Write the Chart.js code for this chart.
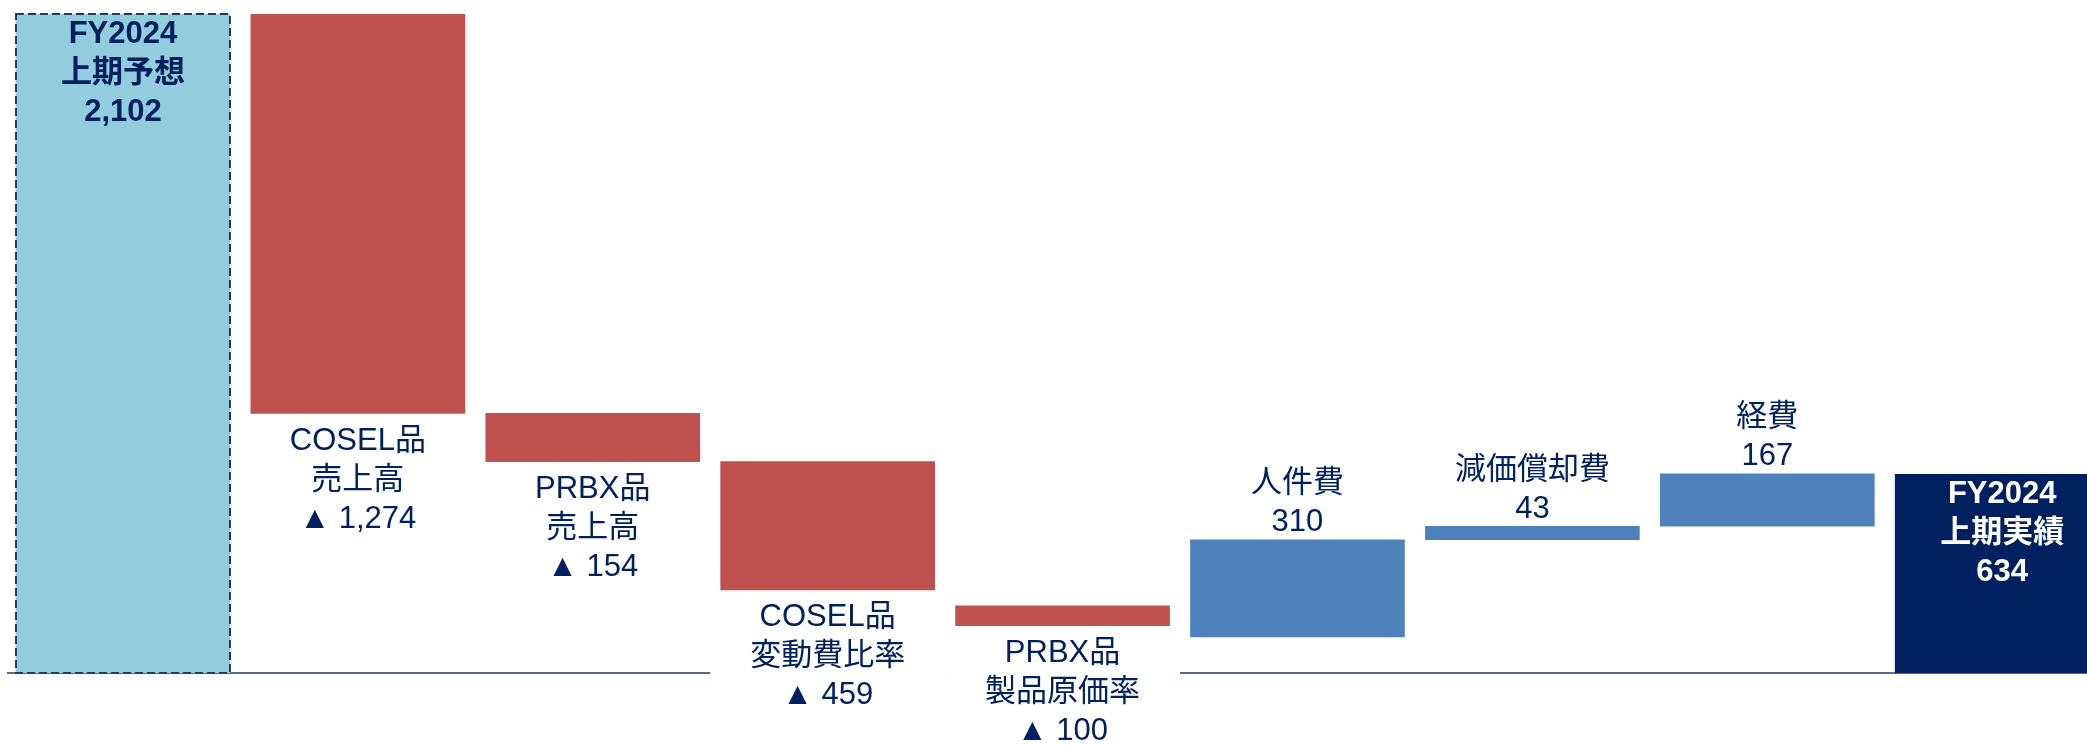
<!DOCTYPE html>
<html>
<head>
<meta charset="utf-8">
<script src="https://cdn.jsdelivr.net/npm/chart.js@4/dist/chart.umd.min.js"></script>
<style>
  html, body { margin: 0; padding: 0; background: #fff; overflow: hidden; }
  #wrap { width: 2087px; height: 745px; position: relative; }
</style>
</head>
<body>
<div id="wrap"><canvas id="graph_waterfall"></canvas></div>
<script>
// Waterfall - FY2024 上期 (予想 -> 実績)
var categories = [
  ['FY2024', '上期予想'],
  ['COSEL品', '売上高'],
  ['PRBX品', '売上高'],
  ['COSEL品', '変動費比率'],
  ['PRBX品', '製品原価率'],
  ['人件費'],
  ['減価償却費'],
  ['経費'],
  ['FY2024', '上期実績']
];
// amounts printed on the chart (negative = ▲)
var amounts = [2102, -1274, -154, -459, -100, 310, 43, 167, 634];
// bar extents as drawn in the picture
var barLow  = [0, 828, 674, 265, 151, 115, 425, 468, 0];
var barHigh = [2102, 2102, 828, 674, 214, 425, 468, 635, 634];
var kinds = ['total', 'down', 'down', 'down', 'down', 'up', 'up', 'up', 'total'];

var colors = {
  total0: '#93CDDD',
  down: '#C0504D',
  up: '#4F81BD',
  total1: '#002060',
  text: '#002060',
  line: '#1F3864'
};

var barColors = kinds.map(function (k, i) {
  if (k === 'total') return i === 0 ? colors.total0 : colors.total1;
  return k === 'down' ? colors.down : colors.up;
});

var points = barLow.map(function (lo, i) {
  return { x: i, y: [lo, barHigh[i]] };
});

function fmt(v) {
  var s = Math.abs(v).toLocaleString('en-US');
  return v < 0 ? '▲ ' + s : s;
}

var FONT = '"Liberation Sans", Arial, "Noto Sans CJK JP", sans-serif';
var LINE_H = 39;

var waterfallPlugin = {
  id: 'waterfallDeco',
  beforeDatasetsDraw: function (chart) {
    var ctx = chart.ctx;
    var y0 = chart.scales.y.getPixelForValue(0);
    ctx.save();
    ctx.strokeStyle = colors.line;
    ctx.lineWidth = 1.5;
    ctx.beginPath();
    ctx.moveTo(7, y0);
    ctx.lineTo(chart.chartArea.right, y0);
    ctx.stroke();
    ctx.restore();
  },
  afterDatasetsDraw: function (chart) {
    var ctx = chart.ctx;
    var meta = chart.getDatasetMeta(0);
    var pitch = chart.scales.x.getPixelForValue(1) - chart.scales.x.getPixelForValue(0);
    ctx.save();
    ctx.textAlign = 'center';
    ctx.textBaseline = 'middle';

    meta.data.forEach(function (bar, i) {
      var top = Math.min(bar.y, bar.base);
      var bottom = Math.max(bar.y, bar.base);
      var lines = categories[i].concat([fmt(amounts[i])]);
      var kind = kinds[i];

      if (i === 0) {
        // dashed outline on the forecast bar
        ctx.save();
        ctx.setLineDash([8, 4]);
        ctx.lineWidth = 2;
        ctx.strokeStyle = colors.line;
        ctx.strokeRect(bar.x - bar.width / 2, top, bar.width, bottom - top);
        ctx.restore();
      }

      var first;
      if (kind === 'total') {
        first = top + 20;
        ctx.font = 'bold 31px ' + FONT;
        ctx.fillStyle = i === 0 ? colors.text : '#ffffff';
      } else if (kind === 'down') {
        first = bottom + 28;
        ctx.fillStyle = '#ffffff';
        ctx.fillRect(bar.x - pitch / 2, first - 20, pitch, (lines.length - 1) * LINE_H + 40);
        ctx.font = '31px ' + FONT;
        ctx.fillStyle = colors.text;
      } else {
        first = top - 17 - (lines.length - 1) * LINE_H;
        ctx.font = '31px ' + FONT;
        ctx.fillStyle = colors.text;
      }
      lines.forEach(function (t, j) {
        ctx.fillText(t, bar.x, first + j * LINE_H);
      });
    });
    ctx.restore();
  }
};

var ctxW = document.getElementById('graph_waterfall').getContext('2d');
var chartW = new Chart(ctxW, {
  type: 'bar',
  data: {
    datasets: [{
      data: points,
      backgroundColor: barColors,
      borderWidth: 0,
      barThickness: 214
    }]
  },
  options: {
    responsive: true,
    maintainAspectRatio: false,
    animation: false,
    layout: { padding: { top: 14, bottom: 72, left: 5.5, right: 0 } },
    plugins: { legend: { display: false }, tooltip: { enabled: false } },
    scales: {
      x: { type: 'linear', display: false, offset: false, min: -0.5, max: 8.361 },
      y: { display: false, min: 0, max: 2102 }
    }
  },
  plugins: [waterfallPlugin]
});
</script>
</body>
</html>
